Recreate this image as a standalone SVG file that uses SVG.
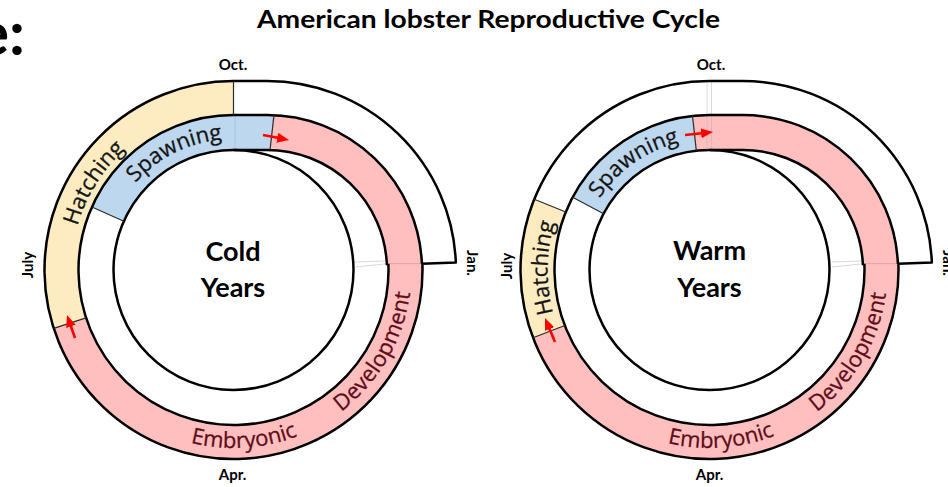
<svg xmlns="http://www.w3.org/2000/svg" width="948" height="487" viewBox="0 0 948 487">
<style>
  .yel{fill:#fdecc1}
  .blu{fill:#bdd7ee}
  .pnk{fill:#ffbfbf;stroke:#ffbfbf;stroke-width:0.6}
  .wht{fill:#ffffff}
  .ol{fill:none;stroke:#000;stroke-width:2.5;stroke-linejoin:round}
  .circ{fill:#ffffff;stroke:#000;stroke-width:2.5}
  .cap{stroke:#2b2b2b;stroke-width:1.2}
  .seam{stroke:#b0b0b0;stroke-width:0.8;opacity:0.6}
  .pseam{stroke:#e59a9a;stroke-width:0.8}
  .bseam{stroke:#a3c4e2;stroke-width:0.9}
  .mon{font-family:Lato,"Open Sans","Liberation Sans",sans-serif;font-weight:700;font-size:15px;fill:#000;text-anchor:middle}
  .lbl{font-family:"Open Sans",Lato,"Liberation Sans",sans-serif;font-size:22px;fill:#141414;stroke:#141414;stroke-width:0.3}
  .emb{font-family:"Open Sans",Lato,"Liberation Sans",sans-serif;font-size:22px;fill:#5f0c19;stroke:#5f0c19;stroke-width:0.3}
  .ctr{font-family:Lato,"Open Sans","Liberation Sans",sans-serif;font-weight:700;font-size:27px;fill:#000;text-anchor:middle}
  .ttl{font-family:Lato,"Open Sans","Liberation Sans",sans-serif;font-weight:700;font-size:24px;fill:#000}
  .arr{stroke:#ff0000;stroke-width:2.6;fill:none;marker-end:url(#ah)}
</style>
<defs>
  <marker id="ah" viewBox="0 0 12 10" refX="3" refY="5" markerWidth="12" markerHeight="10" markerUnits="userSpaceOnUse" orient="auto">
    <path d="M0,0 L12,5 L0,10 z" fill="#ff0000"/>
  </marker>
  <path id="pHatchL" d="M 71.59 264.63 A 162 162 0 0 1 157.20 127.09"/>
  <path id="pSpawnL" d="M 124.01 198.08 A 131 131 0 0 1 241.04 139.22"/>
  <path id="pEmbL" d="M 154.35 429.44 A 178 178 0 0 0 332.00 418.26"/>
  <path id="pDevL" d="M 322.5 424.15 A 178 178 0 0 0 411.5 270"/>
  <path id="pHatchR" d="M 568.15 349.16 A 162 162 0 0 1 570.28 187.16"/>
  <path id="pSpawnR" d="M 590.58 215.05 A 131 131 0 0 1 697.63 139.54"/>
  <path id="pEmbR" d="M 631.33 429.92 A 178 178 0 0 0 808.91 417.66"/>
  <path id="pDevR" d="M 797.83 424.54 A 178 178 0 0 0 887.5 270.78"/>
</defs>

<rect width="948" height="487" fill="#ffffff"/>

<text class="ttl" x="257" y="28" textLength="463" lengthAdjust="spacingAndGlyphs">American lobster Reproductive Cycle</text>
<text id="cut-title" font-family="Lato,'Open Sans','Liberation Sans',sans-serif" font-weight="700" font-size="62" x="25" y="55" text-anchor="end">e:</text>

<!-- ============ COLD YEARS ============ -->
<g id="cold-years">
  <g id="cold-hatching">
    <path class="yel" d="M 53.75 328.40 A 189 189 0 0 1 233.5 81 L 233.5 115 A 155 155 0 0 0 86.09 317.90 Z"/>
  </g>
  <g id="cold-outer-band">
    <path class="wht" d="M 233.5 81 L 267 81 A 189 189 0 0 1 455.85 262.42 L 421.87 263.78 A 155 155 0 0 0 267 115 L 233.5 115 Z"/>
  </g>
  <g id="cold-spawning">
    <path class="blu" d="M 91.90 206.96 A 155 155 0 0 1 233.5 115 L 267 115 A 155 155 0 0 1 274 115.16 L 270 150.04 A 120 120 0 0 0 267 150 L 233.5 150 A 120 120 0 0 0 123.87 221.19 Z"/>
    <line class="bseam" x1="235" y1="116" x2="235" y2="149"/>
  </g>
  <g id="cold-embryonic">
    <path class="pnk" d="M 422.23 258.47 A 189 189 0 0 1 53.75 328.40 L 86.09 317.90 A 155 155 0 0 0 388.27 260.54 Z"/>
    <path class="pnk" d="M 274 115.16 A 155 155 0 0 1 421.87 263.78 L 386.90 265.18 A 120 120 0 0 0 270 150.04 Z"/>
    <line class="pseam" x1="387" y1="263.6" x2="422" y2="263.6"/>
  </g>
  <g id="cold-center">
    <circle class="circ" cx="233.5" cy="270" r="120"/>
    <text class="ctr" x="233" y="261">Cold</text>
    <text class="ctr" x="233" y="297">Years</text>
  </g>
  <g id="cold-outlines">
    <path class="ol" d="M 422.35 262.42 A 189 189 0 1 1 233.5 81 L 267 81 A 189 189 0 0 1 455.85 262.42 L 421.87 263.78"/>
    <path class="ol" d="M 388.37 263.78 A 155 155 0 1 1 233.5 115 L 267 115 A 155 155 0 0 1 421.87 263.78"/>
    <path class="ol" d="M 233.5 150 L 267 150 A 120 120 0 0 1 386.90 265.18"/>
    <line class="cap" x1="53.75" y1="328.40" x2="86.09" y2="317.90"/>
    <line class="cap" x1="91.90" y1="206.96" x2="123.87" y2="221.19"/>
    <line class="cap" x1="274" y1="115.16" x2="270" y2="150.04"/>
    <line class="cap" x1="233.5" y1="81" x2="233.5" y2="115"/>
    <line class="seam" x1="355" y1="262" x2="385" y2="261"/>
    <line class="seam" x1="355" y1="267" x2="385" y2="264"/>
  </g>
  <g id="cold-labels">
    <text class="lbl" font-size="21.5"><textPath href="#pHatchL" startOffset="50%" text-anchor="middle">Hatching</textPath></text>
    <text class="lbl"><textPath href="#pSpawnL" startOffset="50%" text-anchor="middle">Spawning</textPath></text>
    <text class="emb"><textPath href="#pEmbL" startOffset="50%" text-anchor="middle">Embryonic</textPath></text>
    <text class="emb" letter-spacing="0.3"><textPath href="#pDevL" startOffset="50%" text-anchor="middle">Development</textPath></text>
    <text class="mon" x="233" y="70">Oct.</text>
    <text class="mon" x="232.5" y="479.5">Apr.</text>
    <text class="mon" transform="translate(32.5,265) rotate(-90)">July</text>
    <text class="mon" transform="translate(467,263) rotate(90)">Jan.</text>
  </g>
</g>

<!-- ============ WARM YEARS ============ -->
<g id="warm-years">
  <g id="warm-hatching">
    <path class="yel" d="M 533.05 337.73 A 189 189 0 0 1 534.26 199.20 L 565.79 211.94 A 155 155 0 0 0 564.80 325.55 Z"/>
  </g>
  <g id="warm-outer-band">
    <path class="wht" d="M 534.26 199.20 A 189 189 0 0 1 709.5 81 L 743 81 A 189 189 0 0 1 931.85 262.42 L 897.87 263.78 A 155 155 0 0 0 743 115 L 709.5 115 A 155 155 0 0 0 565.79 211.94 Z"/>
  </g>
  <g id="warm-spawning">
    <path class="blu" d="M 572.64 197.23 A 155 155 0 0 1 692.49 115.94 L 696.33 150.72 A 120 120 0 0 0 603.55 213.66 Z"/>
  </g>
  <g id="warm-embryonic">
    <path class="pnk" d="M 898.23 258.47 A 189 189 0 0 1 533.05 337.73 L 564.80 325.55 A 155 155 0 0 0 864.27 260.54 Z"/>
    <path class="pnk" d="M 692.49 115.94 A 155 155 0 0 1 709.5 115 L 743 115 A 155 155 0 0 1 897.87 263.78 L 862.90 265.18 A 120 120 0 0 0 743 150 L 709.5 150 A 120 120 0 0 0 696.33 150.72 Z"/>
    <line class="pseam" x1="863" y1="263.6" x2="898" y2="263.6"/>
  </g>
  <g id="warm-center">
    <circle class="circ" cx="709.5" cy="270" r="120"/>
    <text class="ctr" x="709.5" y="260">Warm</text>
    <text class="ctr" x="709.5" y="297">Years</text>
  </g>
  <g id="warm-outlines">
    <line class="seam" x1="707" y1="83" x2="707" y2="150"/>
    <line class="seam" x1="711.5" y1="82" x2="711.5" y2="150"/>
    <path class="ol" d="M 898.35 262.42 A 189 189 0 1 1 709.5 81 L 743 81 A 189 189 0 0 1 931.85 262.42 L 897.87 263.78"/>
    <path class="ol" d="M 864.37 263.78 A 155 155 0 1 1 709.5 115 L 743 115 A 155 155 0 0 1 897.87 263.78"/>
    <path class="ol" d="M 709.5 150 L 743 150 A 120 120 0 0 1 862.90 265.18"/>
    <line class="cap" x1="533.05" y1="337.73" x2="564.80" y2="325.55"/>
    <line class="cap" x1="534.26" y1="199.20" x2="565.79" y2="211.94"/>
    <line class="cap" x1="572.64" y1="197.23" x2="603.55" y2="213.66"/>
    <line class="cap" x1="692.49" y1="115.94" x2="696.33" y2="150.72"/>
    <line class="seam" x1="832" y1="262" x2="861" y2="261"/>
    <line class="seam" x1="832" y1="267" x2="861" y2="264"/>
  </g>
  <g id="warm-labels">
    <text class="lbl" font-size="21.5"><textPath href="#pHatchR" startOffset="50%" text-anchor="middle">Hatching</textPath></text>
    <text class="lbl"><textPath href="#pSpawnR" startOffset="50%" text-anchor="middle">Spawning</textPath></text>
    <text class="emb"><textPath href="#pEmbR" startOffset="50%" text-anchor="middle">Embryonic</textPath></text>
    <text class="emb" letter-spacing="0.3"><textPath href="#pDevR" startOffset="50%" text-anchor="middle">Development</textPath></text>
    <text class="mon" x="711" y="70">Oct.</text>
    <text class="mon" x="709.5" y="479.5">Apr.</text>
    <text class="mon" transform="translate(511.5,266) rotate(-90)">July</text>
    <text class="mon" transform="translate(943,263) rotate(90)">Jan.</text>
  </g>
</g>

<!-- ============ CONNECTORS (arrows) ============ -->
<g id="connectors">
  <line class="arr" x1="263" y1="135" x2="280.2" y2="138.3"/>
  <line class="arr" x1="75" y1="338" x2="69.96" y2="323.5"/>
  <line class="arr" x1="685" y1="135" x2="704.05" y2="132.96"/>
  <line class="arr" x1="555" y1="342" x2="548.46" y2="326.31"/>
</g>
</svg>
